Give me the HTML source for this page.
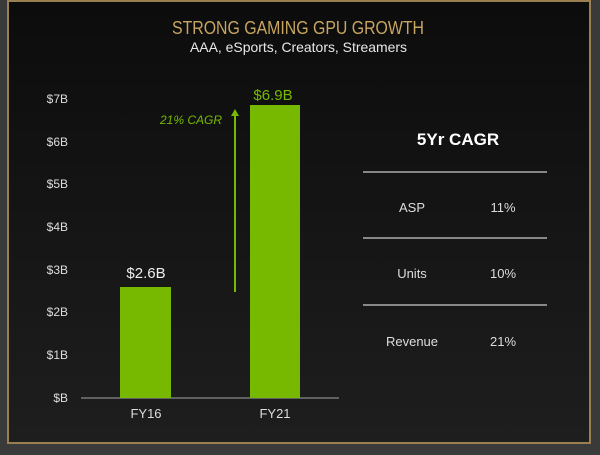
<!DOCTYPE html>
<html><head><style>
body{margin:0;width:600px;height:455px;background:#3a3a3a;overflow:hidden;font-family:"Liberation Sans",sans-serif}
.panel{position:absolute;left:7px;top:0;width:580px;height:440px;border:2px solid #9a8050;background:linear-gradient(#0c0c0c,#1e1e1e)}
</style></head><body>
<div class="panel"></div>
<svg width="600" height="455" style="position:absolute;left:0;top:0">
<line x1="81" y1="398" x2="339" y2="398" stroke="#777" stroke-width="1.5"/>
<rect x="120" y="287" width="51" height="111" fill="#76b900"/>
<rect x="250" y="105" width="50" height="293" fill="#76b900"/>
<line x1="235" y1="292" x2="235" y2="114" stroke="#76b900" stroke-width="2"/>
<polygon points="231,116 239,116 235,109" fill="#76b900"/>
<g stroke="#ccc" stroke-width="1.2"><line x1="363" y1="172" x2="547" y2="172"/><line x1="363" y1="238" x2="547" y2="238"/><line x1="363" y1="305" x2="547" y2="305"/></g>
<g font-family="Liberation Sans, sans-serif" font-size="12" fill="#ddd" text-anchor="end">
<text x="68" y="103">$7B</text><text x="68" y="146">$6B</text><text x="68" y="188">$5B</text><text x="68" y="231">$4B</text><text x="68" y="274">$3B</text><text x="68" y="316">$2B</text><text x="68" y="359">$1B</text><text x="68" y="402">$B</text>
</g>
<g font-family="Liberation Sans, sans-serif" font-size="13" fill="#ddd" text-anchor="middle">
<text x="146" y="418">FY16</text><text x="275" y="418">FY21</text>
<text x="412" y="212">ASP</text><text x="503" y="212">11%</text>
<text x="412" y="278">Units</text><text x="503" y="278">10%</text>
<text x="412" y="346">Revenue</text><text x="503" y="346">21%</text>
</g>
<text x="146" y="278" text-anchor="middle" font-size="15" fill="#eee" font-family="Liberation Sans, sans-serif">$2.6B</text>
<text x="273" y="100" text-anchor="middle" font-size="15" fill="#76b900" font-family="Liberation Sans, sans-serif">$6.9B</text>
<text x="222" y="124" text-anchor="end" font-size="12" font-style="italic" fill="#76b900" font-family="Liberation Sans, sans-serif">21% CAGR</text>
<text x="458" y="145" text-anchor="middle" font-size="17" font-weight="bold" fill="#fff" font-family="Liberation Sans, sans-serif">5Yr CAGR</text>
<text x="172" y="34" textLength="252" lengthAdjust="spacingAndGlyphs" font-size="18" fill="#c8a560" font-family="Liberation Sans, sans-serif">STRONG GAMING GPU GROWTH</text>
<text x="190" y="52" textLength="217" lengthAdjust="spacingAndGlyphs" font-size="14" fill="#e8e8e8" font-family="Liberation Sans, sans-serif">AAA, eSports, Creators, Streamers</text>
</svg>
</body></html>
